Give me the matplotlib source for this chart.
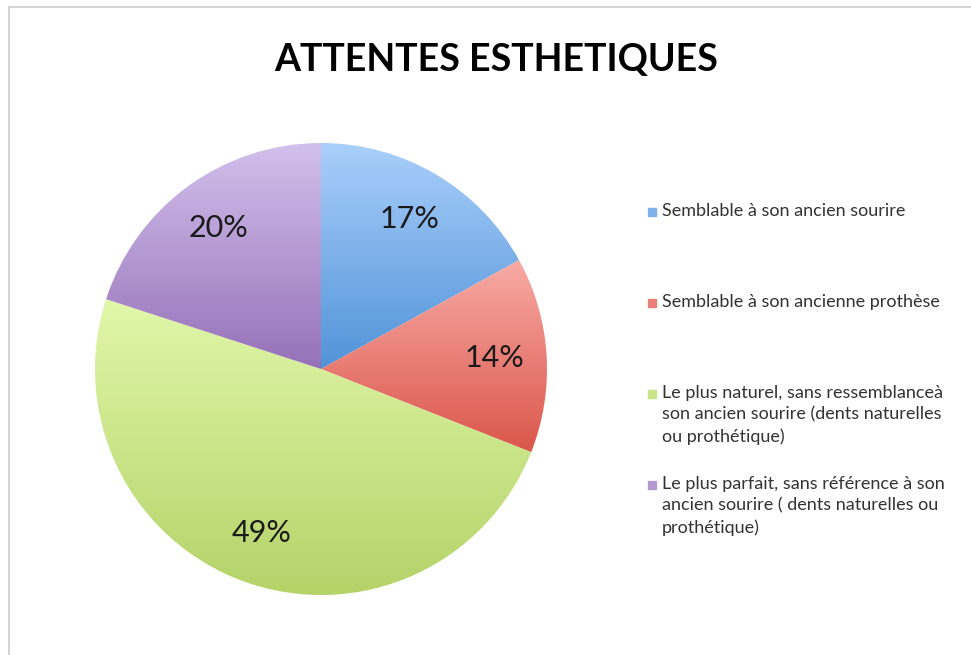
import matplotlib
matplotlib.use("Agg")
import matplotlib.pyplot as plt
import numpy as np
from matplotlib.colors import LinearSegmentedColormap, to_rgb
from matplotlib.lines import Line2D
from matplotlib.patches import Rectangle

plt.rcParams["font.family"] = ["Lato", "DejaVu Sans"]

title = "ATTENTES ESTHETIQUES"
labels = [
    "Semblable à son ancien sourire",
    "Semblable à son ancienne prothèse",
    "Le plus naturel, sans ressemblanceà\nson ancien sourire (dents naturelles\nou prothétique)",
    "Le plus parfait, sans référence à son\nancien sourire ( dents naturelles ou\nprothétique)",
]
values = [17, 14, 49, 20]
# (haut, bas) de chaque dégradé
tops = ["#aacffb", "#f8aba5", "#e1f7aa", "#d2c0ec"]
bottoms = ["#5193d8", "#db564b", "#b3d267", "#9671b8"]

W, H = 971, 655
fig = plt.figure(figsize=(W / 100, H / 100), dpi=100)

# cadre gris
fig.add_artist(Line2D([8.5 / W, 8.5 / W], [0, 1 - 6.5 / H], color="#cccccc", lw=1.2))
fig.add_artist(Line2D([8.5 / W, 1], [1 - 6.5 / H, 1 - 6.5 / H], color="#cccccc", lw=1.2))

fig.text(496 / W, 1 - 60 / H, title, ha="center", va="center",
         fontsize=27, fontweight="bold", color="#000000")

cx, cy, r = 321, 369, 226
ax = fig.add_axes([(cx - r) / W, 1 - (cy + r) / H, 2 * r / W, 2 * r / H])
wedges, texts = ax.pie(values, startangle=90, counterclock=False, radius=1,
                       labels=[f"{v}%" for v in values], labeldistance=0.77,
                       textprops=dict(fontsize=22, color="#1a1a1a"))
ax.set_xlim(-1, 1)
ax.set_ylim(-1, 1)
ax.set_aspect("equal")
ax.axis("off")

grad = np.linspace(1, 0, 256).reshape(-1, 1)
for w, t, b in zip(wedges, tops, bottoms):
    w.set_facecolor("none")
    w.set_edgecolor("none")
    verts = w.get_path().vertices
    tr = w.get_patch_transform().transform(verts)
    x0, x1 = tr[:, 0].min(), tr[:, 0].max()
    y0, y1 = tr[:, 1].min(), tr[:, 1].max()
    cmap = LinearSegmentedColormap.from_list("g", [b, t])
    im = ax.imshow(grad, cmap=cmap, extent=[x0, x1, y0, y1], aspect="auto",
                   origin="upper", zorder=0.5)
    im.set_clip_path(w)

for t in texts:
    t.set_zorder(3)
    t.set_ha("center")
    t.set_va("center")

# légende
ly0, step = 212, 91
for i, lab in enumerate(labels):
    y = ly0 + i * step
    col = np.mean([to_rgb(tops[i]), to_rgb(bottoms[i])], axis=0)
    fig.add_artist(Rectangle((648 / W, 1 - (y + 4) / H), 8 / W, 8 / H,
                             color=col, transform=fig.transFigure))
    fig.text(662 / W, 1 - (y - 9) / H, lab, ha="left", va="top",
             fontsize=13, color="#333333", linespacing=1.42)

fig.savefig("out.png", dpi=100)
